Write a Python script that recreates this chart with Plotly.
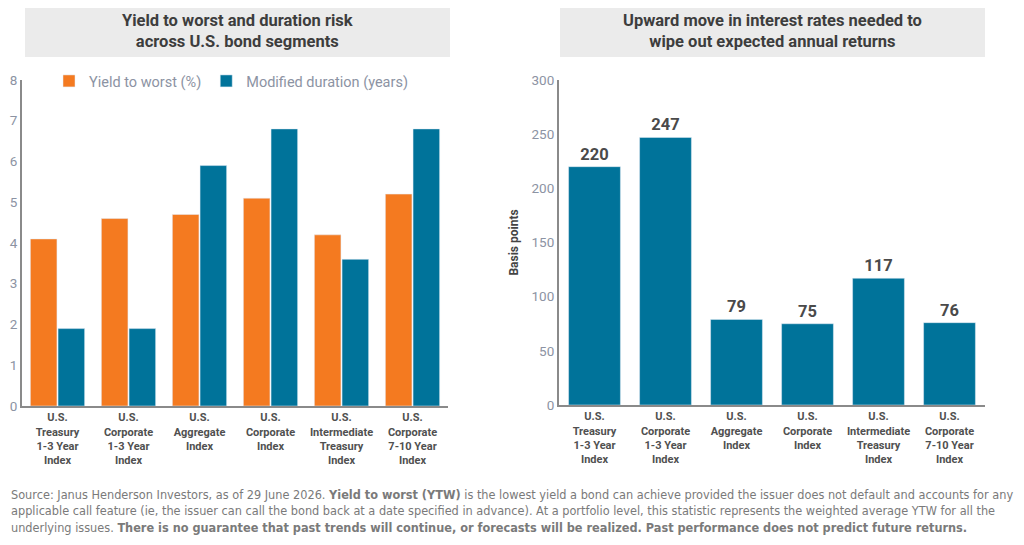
import plotly.graph_objects as go
from plotly.subplots import make_subplots

categories = [
    "U.S.<br>Treasury<br>1-3 Year<br>Index",
    "U.S.<br>Corporate<br>1-3 Year<br>Index",
    "U.S.<br>Aggregate<br>Index",
    "U.S.<br>Corporate<br>Index",
    "U.S.<br>Intermediate<br>Treasury<br>Index",
    "U.S.<br>Corporate<br>7-10 Year<br>Index",
]
yield_to_worst = [4.1, 4.6, 4.7, 5.1, 4.2, 5.2]
modified_duration = [1.9, 1.9, 5.9, 6.8, 3.6, 6.8]
bps_to_wipe_out = [220, 247, 79, 75, 117, 76]

left_title = "Yield to worst and duration risk<br>across U.S. bond segments"
right_title = "Upward move in interest rates needed to<br>wipe out expected annual returns"
footer = (
    "Source: Janus Henderson Investors, as of 29 June 2026. <b>Yield to worst (YTW)</b> is the lowest yield a bond can achieve "
    "provided the issuer does not default and accounts for any<br>applicable call feature (ie, the issuer can call the bond back "
    "at a date specified in advance). At a portfolio level, this statistic represents the weighted average YTW for all the<br>"
    "underlying issues. <b>There is no guarantee that past trends will continue, or forecasts will be realized. "
    "Past performance does not predict future returns.</b>"
)

ORANGE = "#F47A20"
BLUE = "#00739A"
W, H = 1024, 545
OFF = 8  # page body margin shifts the figure by this much

fig = make_subplots(rows=1, cols=2)

fig.add_trace(go.Bar(x=categories, y=yield_to_worst, name="Yield to worst (%)",
                     marker_color=ORANGE), row=1, col=1)
fig.add_trace(go.Bar(x=categories, y=modified_duration, name="Modified duration (years)",
                     marker_color=BLUE), row=1, col=1)
fig.add_trace(go.Bar(x=categories, y=bps_to_wipe_out, marker_color=BLUE, showlegend=False,
                     text=bps_to_wipe_out, textposition="outside", cliponaxis=False,
                     textfont=dict(size=16.5, color="#4a4a4a", family="Roboto", weight="bold"),
                     width=0.73), row=1, col=2)

# helpers: convert reference-image pixels into paper fractions
def px_x(v):
    return (v - OFF) / W

def px_y(v):
    return 1 - (v - OFF) / H

tickfont = dict(size=11, color="#505050", family="Roboto", weight="bold")
axis_common = dict(showline=True, linecolor="#8a8a8a", linewidth=2, ticks="", showgrid=False,
                   zeroline=False, automargin=False)
ytickfont = dict(size=13.5, color="#8c93a3", family="Roboto")

fig.update_xaxes(domain=[px_x(22), px_x(448)], tickfont=tickfont, tickangle=0, **axis_common, row=1, col=1)
fig.update_xaxes(domain=[px_x(559), px_x(985)], tickfont=tickfont, tickangle=0, **axis_common, row=1, col=2)
fig.update_yaxes(domain=[px_y(406), px_y(80)], range=[0, 8], dtick=1, tickfont=ytickfont,
                 ticklabelstandoff=0, **axis_common, row=1, col=1)
fig.update_yaxes(domain=[px_y(405), px_y(80)], range=[0, 300], dtick=50, tickfont=ytickfont,
                 title=dict(text="<b>Basis points</b>", font=dict(size=12, color="#444", family="Roboto"), standoff=10),
                 **axis_common, row=1, col=2)

for x0, x1, txt in [(25, 450, left_title), (560, 985, right_title)]:
    fig.add_shape(type="rect", xref="paper", yref="paper", x0=px_x(x0), x1=px_x(x1),
                  y0=px_y(57), y1=px_y(4), fillcolor="#EBEBEB", line_width=0, layer="below")
    fig.add_annotation(xref="paper", yref="paper", x=px_x((x0 + x1) / 2), y=px_y(31),
                       xanchor="center", yanchor="middle",
                       text="<b>" + txt + "</b>", showarrow=False, align="center",
                       font=dict(size=16.5, color="#3d3d3d", family="Roboto"))

fig.add_annotation(xref="paper", yref="paper", x=px_x(9), y=px_y(485), xanchor="left", yanchor="top",
                   text=footer, showarrow=False, align="left",
                   font=dict(size=12.6, color="#7a7a7a", family="DejaVu Sans Condensed, Roboto"))

fig.update_layout(
    width=W, height=H,
    margin=dict(l=0, r=0, t=0, b=0, autoexpand=False),
    paper_bgcolor="white", plot_bgcolor="white",
    barmode="group", bargap=0.22, bargroupgap=0.04,
    legend=dict(orientation="h", x=px_x(49), y=px_y(81), xanchor="left", yanchor="middle",
                font=dict(size=14.5, color="#8c93a3", family="Roboto"), itemwidth=30,
                bgcolor="rgba(0,0,0,0)"),
    font=dict(family="Roboto"),
)

fig.write_html("out.html")
